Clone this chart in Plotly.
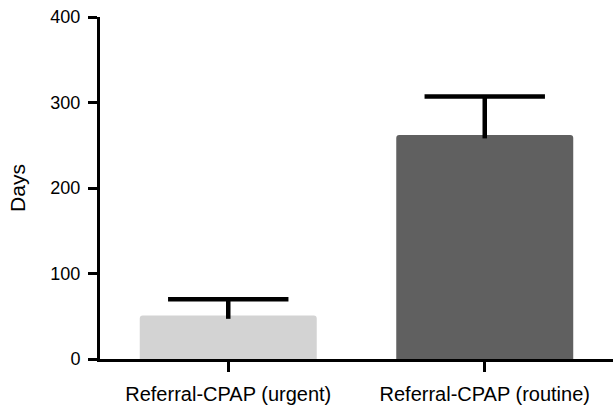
import plotly.graph_objects as go

categories = ["Referral-CPAP (urgent)", "Referral-CPAP (routine)"]
means = [51, 262]
errors_up = [19, 45]
colors = ["#d3d3d3", "#606060"]
y_ticks = [0, 100, 200, 300, 400]

tops = [m + e for m, e in zip(means, errors_up)]

fig = go.Figure()
fig.add_trace(go.Bar(
    x=categories, y=means,
    marker=dict(color=colors, line=dict(width=0)),
    width=0.69, hoverinfo="skip",
))
# error stems (no caps) drawn downward from top of error, cap as a marker
fig.add_trace(go.Scatter(
    x=categories, y=tops, mode="markers",
    marker=dict(symbol="line-ew-open", size=86, color="black",
                line=dict(width=4.5, color="black")),
    error_y=dict(type="data", symmetric=False, array=[0, 0],
                 arrayminus=[e + 4 for e in errors_up],
                 color="black", thickness=4.5, width=0),
    cliponaxis=False, hoverinfo="skip",
))
tick_font = dict(family="Liberation Sans, Arial, sans-serif", size=18, color="black")
label_font = dict(family="Liberation Sans, Arial, sans-serif", size=20, color="black")
title_font = dict(family="Liberation Sans, Arial, sans-serif", size=21, color="black")
fig.update_layout(
    width=613, height=406,
    margin=dict(l=100, r=0, t=17, b=47),
    plot_bgcolor="white", paper_bgcolor="white",
    showlegend=False, barcornerradius=3,
    font=tick_font,
)
fig.update_yaxes(range=[0, 400], tickvals=y_ticks, showgrid=False, zeroline=False,
                 showline=True, linecolor="black", linewidth=3,
                 ticks="outside", ticklen=9, tickwidth=3, tickcolor="black",
                 ticklabelstandoff=4,
                 title=dict(text="Days", font=title_font, standoff=20), tickfont=tick_font)
fig.update_xaxes(range=[-0.5, 1.5], showgrid=False, showline=True, linecolor="black",
                 linewidth=3, ticks="outside", ticklen=10, tickwidth=3, tickcolor="black",
                 ticklabelstandoff=5, tickfont=label_font)
fig.write_html("out.html", config={"displayModeBar": False})
with open("out.html", "r", encoding="utf-8") as f:
    html = f.read()
html = html.replace("<body>", "<body style=\"margin:0;padding:0\">", 1)
with open("out.html", "w", encoding="utf-8") as f:
    f.write(html)
